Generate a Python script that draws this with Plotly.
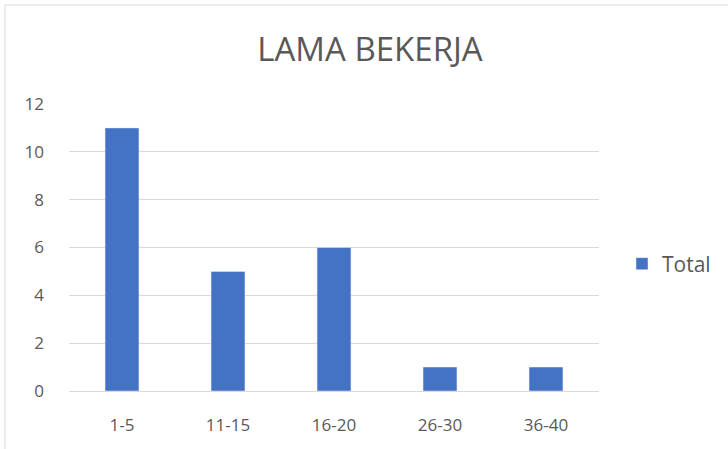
import plotly.graph_objects as go

categories = ["1-5", "11-15", "16-20", "26-30", "36-40"]
totals = [11, 5, 6, 1, 1]

W, H = 728, 449
L, T = 69, 104
R = W - 599
B = H - 391
pw, ph = W - L - R, H - T - B


def px(x):
    return (x - L) / pw


def py(y):
    return (H - B - y) / ph


fig = go.Figure()
fig.add_trace(go.Bar(x=categories, y=totals, name="Total", marker_color="#4472C4",
                     showlegend=True))

# outer chart border (left/top visible, right/bottom cut off)
fig.add_shape(type="rect", xref="paper", yref="paper",
              x0=px(5), x1=px(760), y0=py(470), y1=py(5),
              line=dict(color="#d9d9d9", width=1), layer="below")

fig.update_layout(
    width=W, height=H,
    margin=dict(l=L, r=R, t=T, b=B, autoexpand=False),
    paper_bgcolor="white", plot_bgcolor="white",
    font=dict(family="Open Sans", color="#595959", size=17),
    title=dict(text="LAMA BEKERJA", x=px(370), xref="paper", xanchor="center",
               y=1 - 49 / H, yanchor="middle", font=dict(size=33, color="#595959")),
    bargap=0.68,
    showlegend=True,
    legend=dict(x=px(622), y=py(264), xanchor="left", yanchor="middle",
                font=dict(size=21, color="#595959"), itemwidth=30),
)
fig.update_xaxes(showgrid=False, showline=False, ticks="", ticklabelstandoff=22)
fig.update_yaxes(range=[0, 12], dtick=2, showgrid=True, gridcolor="#d9d9d9", gridwidth=1,
                 zeroline=True, zerolinecolor="#d9d9d9", zerolinewidth=1,
                 showline=False, ticks="", ticklabelstandoff=24)

# page body has a default 8px margin; drop it so the figure sits at the corner
fig.write_html("out.html", config={"displayModeBar": False},
               post_script="document.body.style.margin='0';")
